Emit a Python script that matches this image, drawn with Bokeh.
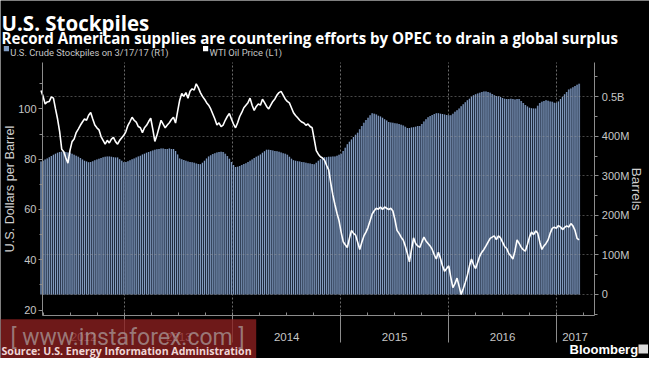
import math
import pandas as pd
from bokeh.plotting import figure
from bokeh.models import (Range1d, LinearAxis, FixedTicker, Label, BoxAnnotation,
                          Grid, CustomJSTickFormatter, ColumnDataSource)
from bokeh.embed import file_html
from bokeh.resources import INLINE

# ---------------- data ----------------
first_week = "2012-03-23"   # weekly observations, last one 2017-03-17

stocks_mbbl = [
    336, 338, 341, 344, 347, 350, 353, 356, 358, 360,
    361, 361, 360, 359, 358, 356, 353, 351, 348, 345,
    341, 338, 336, 334, 335, 337, 339, 341, 343, 345,
    347, 348, 349, 349, 348, 347, 346, 346, 342, 338,
    334, 335, 337, 339, 342, 344, 346, 349, 351, 354,
    356, 358, 360, 362, 364, 366, 367, 368, 369, 369,
    368, 368, 369, 368, 368, 363, 354, 344, 342, 340,
    338, 336, 335, 334, 333, 331, 330, 329, 333, 338,
    344, 349, 352, 355, 357, 359, 360, 361, 360, 356,
    350, 343, 335, 327, 322, 323, 325, 327, 330, 332,
    335, 338, 341, 345, 348, 351, 354, 358, 362, 366,
    366, 365, 364, 363, 362, 361, 359, 357, 356, 353,
    348, 343, 339, 338, 337, 336, 335, 334, 333, 332,
    331, 330, 329, 333, 338, 342, 346, 347, 347, 348,
    348, 349, 349, 351, 353, 356, 363, 371, 380, 386,
    392, 398, 404, 409, 418, 426, 434, 441, 447, 453,
    458, 457, 455, 452, 450, 447, 443, 440, 436, 435,
    434, 433, 432, 431, 429, 427, 424, 421, 421, 422,
    423, 424, 426, 426, 431, 437, 443, 448, 451, 454,
    456, 458, 458, 457, 456, 455, 454, 453, 453, 457,
    462, 466, 470, 476, 481, 486, 491, 495, 500, 504,
    506, 508, 510, 512, 513, 513, 512, 510, 507, 504,
    502, 501, 499, 497, 495, 494, 494, 495, 494, 493,
    494, 494, 489, 484, 479, 475, 472, 471, 470, 470,
    477, 484, 487, 489, 491, 490, 488, 487, 485, 484,
    488, 494, 500, 506, 512, 518, 521, 524, 527, 530,
    533,
]

wti_usd = [
    107.3, 105.0, 102.0, 102.8, 103.0, 104.8, 104.3, 100.0, 96.0, 91.0,
    84.0, 83.0, 80.5, 78.4, 83.5, 87.0, 88.0, 90.6, 92.0, 93.5,
    94.8, 96.0, 95.5, 97.5, 98.6, 96.0, 93.6, 92.5, 91.7, 89.0,
    87.5, 86.0, 87.5, 86.5, 88.0, 88.7, 87.0, 86.0, 87.5, 88.5,
    89.5, 91.0, 93.5, 95.0, 96.7, 95.5, 94.8, 93.0, 92.5, 90.6,
    92.5, 93.5, 95.0, 96.3, 92.0, 87.1, 89.5, 92.5, 95.5, 94.0,
    92.5, 93.6, 94.5, 95.8, 96.7, 94.4, 99.0, 103.5, 106.2, 105.0,
    106.5, 104.3, 107.0, 108.0, 107.5, 110.0, 108.5, 106.5, 105.0, 103.9,
    102.5, 101.5, 100.0, 98.0, 96.0, 93.6, 94.5, 93.0, 93.6, 95.5,
    97.0, 98.2, 96.0, 94.0, 92.5, 94.5, 97.0, 98.6, 100.5, 101.5,
    102.5, 104.3, 101.5, 99.4, 101.0, 102.0, 101.5, 103.9, 102.5, 101.0,
    100.0, 101.5, 103.0, 104.0, 105.5, 106.5, 107.0, 105.5, 104.0, 103.0,
    102.4, 100.5, 98.5, 97.4, 96.5, 95.5, 94.8, 94.4, 93.5, 94.0,
    93.0, 92.5, 88.0, 83.4, 82.0, 81.0, 80.5, 79.6, 77.5, 75.8,
    70.5, 65.8, 62.0, 58.5, 55.5, 51.0, 47.2, 46.0, 44.9, 48.5,
    51.7, 50.5, 49.8, 47.0, 44.1, 47.0, 49.5, 51.0, 52.9, 55.5,
    58.2, 59.5, 60.5, 60.1, 61.0, 60.0, 61.0, 60.5, 60.0, 60.5,
    59.4, 56.0, 51.7, 50.5, 49.0, 47.9, 45.5, 42.5, 39.2, 44.0,
    48.7, 46.5, 45.5, 44.9, 47.0, 49.0, 47.5, 46.5, 45.5, 44.1,
    42.0, 40.3, 43.0, 40.5, 37.5, 35.4, 36.5, 37.6, 33.0, 28.9,
    30.5, 32.7, 29.5, 26.2, 28.5, 31.0, 33.8, 37.5, 40.3, 38.0,
    36.5, 39.0, 41.5, 43.0, 44.1, 45.5, 47.0, 48.5, 49.0, 49.5,
    48.0, 49.5, 48.7, 47.0, 45.3, 44.5, 42.5, 41.5, 40.3, 43.5,
    47.9, 46.5, 45.0, 44.0, 43.4, 46.0, 49.0, 51.0, 50.0, 51.5,
    50.6, 47.0, 44.1, 45.5, 46.5, 47.9, 50.5, 52.5, 53.0, 52.5,
    53.6, 53.0, 52.0, 52.9, 53.5, 53.0, 54.4, 53.5, 51.7, 48.5,
    47.9,
]

left_ticks = [20, 40, 60, 80, 100]
left_minor = [30, 50, 70, 90, 110]
right_ticks = [0, 100, 200, 300, 400, 500]
right_tick_labels = ["0", "100M", "200M", "300M", "400M", "0.5B"]
right_minor = [-50, 50, 150, 250, 350, 450, 550]
year_starts = ["2013-01-01", "2014-01-01", "2015-01-01", "2016-01-01", "2017-01-01"]
year_labels = ["2012", "2013", "2014", "2015", "2016", "2017"]
year_label_at = ["2012-08-14", "2013-07-02", "2014-07-02", "2015-07-02", "2016-07-01", "2017-03-03"]

title = "U.S. Stockpiles"
subtitle = "Record American supplies are countering efforts by OPEC to drain a global surplus"
legend_stock = "U.S. Crude Stockpiles on 3/17/17 (R1)"
legend_wti = "WTI Oil Price (L1)"
left_title = "U.S. Dollars per Barrel"
right_title = "Barrels"
source = "Source: U.S. Energy Information Administration"
brand = "Bloomberg"
watermark = "[ www.instaforex.com ]"

# ---------------- helpers / layout ----------------
def ms(d):
    return pd.Timestamp(d).value / 1e6

weeks = pd.date_range(first_week, periods=len(stocks_mbbl), freq="7D")
x_ms = [ms(d) for d in weeks]
year_ms = [ms(d) for d in year_starts]
quarter_ms = [ms(d) for d in pd.date_range("2012-04-01", "2017-04-01", freq="QS")]
WEEK = 7 * 86400000

W, H = 649, 358
PL, PR, PT, PB = 42.0, 594.3, 62.2, 315.0     # plot area inside the canvas (px)

x0, x1 = ms("2012-03-28"), ms("2017-05-09")   # x extent of the plot area
p_lo, p_hi = 17.83, 118.4                     # left axis extent
s_lo, s_hi = -53.3, 586.0                     # right axis extent (million barrels)

kx = (x1 - x0) / (PR - PL)
kp = (p_hi - p_lo) / (PB - PT)
ks = (s_hi - s_lo) / (PB - PT)

src = ColumnDataSource(dict(x=x_ms, stock=stocks_mbbl, wti=wti_usd))

p = figure(width=W, height=H, output_backend="svg", toolbar_location=None, tools="",
           x_range=Range1d(x0 - PL * kx, x1 + (W - PR) * kx),
           y_range=Range1d(p_lo - (H - PB) * kp, p_hi + PT * kp),
           min_border_left=0, min_border_right=0, min_border_top=0, min_border_bottom=0,
           background_fill_color="black", border_fill_color="black",
           outline_line_color=None)
p.extra_y_ranges = {"stock": Range1d(s_lo - (H - PB) * ks, s_hi + PT * ks)}

# grids
p.ygrid.visible = False
xg = p.xgrid[0]
xg.ticker = FixedTicker(ticks=year_ms)
xg.grid_line_color = "#6a6a6a"
xg.grid_line_dash = "2 2"
xg.bounds = (x0, x1)
xg.cross_bounds = (p_lo, p_hi)

p.vbar(x="x", top="stock", bottom=0, width=WEEK * 0.98, source=src,
       fill_color="#2c3b54", line_color=None, y_range_name="stock")
p.vbar(x="x", top="stock", bottom=0, width=WEEK * 0.45, source=src,
       fill_color="#8ca6ca", line_color=None, y_range_name="stock")

hg = Grid(dimension=1, ticker=FixedTicker(ticks=right_ticks), y_range_name="stock",
          grid_line_color="#a0a0a0", grid_line_alpha=0.45, grid_line_dash="2 2",
          level="glyph", bounds=(s_lo, s_hi), cross_bounds=(x0, x1))
p.renderers.append(hg)

p.line(x="x", y="wti", source=src, line_color="white", line_width=1.6)

AX = "#8c8c8c"
TXT = "#c6c6c6"
FONT = "Liberation Sans"
HEAD = "Open Sans"

def style_axis(ax):
    ax.axis_line_color = AX
    ax.major_tick_line_color = AX
    ax.minor_tick_line_color = AX
    ax.major_label_text_color = TXT
    ax.major_label_text_font = FONT
    ax.major_label_text_font_size = "11px"

ly = p.yaxis[0]
ly.ticker = FixedTicker(ticks=left_ticks, minor_ticks=left_minor)
style_axis(ly)
ly.fixed_location = x0
ly.bounds = (p_lo, p_hi)
ly.major_tick_out = 4
ly.major_tick_in = 0
ly.minor_tick_out = 3
ly.minor_tick_in = 0
ly.major_label_standoff = 2

ry = LinearAxis(y_range_name="stock",
                ticker=FixedTicker(ticks=right_ticks, minor_ticks=right_minor),
                major_label_overrides=dict(zip(right_ticks, right_tick_labels)))
style_axis(ry)
ry.fixed_location = x1
ry.bounds = (s_lo, s_hi)
ry.major_tick_out = 4
ry.major_tick_in = 0
ry.minor_tick_out = 3
ry.minor_tick_in = 0
ry.major_label_standoff = 3
p.add_layout(ry, "right")

bx = p.xaxis[0]
bx.ticker = FixedTicker(ticks=year_ms, minor_ticks=quarter_ms)
bx.formatter = CustomJSTickFormatter(code="return ''")
style_axis(bx)
bx.fixed_location = p_lo
bx.bounds = (x0, x1)
bx.major_tick_out = 27
bx.major_tick_in = 0
bx.minor_tick_out = 0
bx.minor_tick_in = 3
bx.major_label_standoff = 0
bx.major_label_text_font_size = "8px"

def lab(text, cx, cy, size, color=TXT, bold=False, align="left", baseline="alphabetic",
        angle=0.0, font=FONT, alpha=1.0):
    p.add_layout(Label(x=cx, y=H - cy, x_units="screen", y_units="screen",
                       text=text, text_font=font, text_font_size=f"{size}px",
                       text_color=color, text_alpha=alpha,
                       text_font_style="bold" if bold else "normal",
                       text_align=align, text_baseline=baseline, angle=angle))

def box(l, r, t, b, color, alpha=1.0):
    p.add_layout(BoxAnnotation(left=l, right=r, top=H - t, bottom=H - b,
                               left_units="screen", right_units="screen",
                               top_units="screen", bottom_units="screen",
                               fill_color=color, fill_alpha=alpha, line_color=None,
                               level="annotation"))

# titles and legend
lab(title, 1, 22.5, 20.5, color="white", bold=True, font=HEAD)
lab(subtitle, 1, 37.5, 15.1, color="white", bold=True, font=HEAD)
box(3.3, 8.5, 45.5, 50.7, "#7f9bc2")
lab(legend_stock, 9.8, 51.5, 9.4, font="Roboto")
box(202.5, 207.7, 45.5, 50.7, "white")
lab(legend_wti, 209, 51.5, 9.4, font="Roboto")

# axis titles
lab(left_title, 9.5, 188.6, 12.7, color="#cfcfcf", align="center",
    baseline="middle", angle=math.pi / 2)
lab(right_title, 636, 188.6, 13.5, color="#cfcfcf", align="center",
    baseline="middle", angle=-math.pi / 2)

# year labels
for t, d in zip(year_labels, year_label_at):
    p.add_layout(Label(x=ms(d), y=H - 336.5, x_units="data", y_units="screen",
                       text=t, text_font=FONT, text_font_size="11.5px", text_color=TXT,
                       text_align="center", text_baseline="middle"))

# watermark overlay
box(0, 255.7, 318.8, 358, "#8a1f1f", 0.8)
lab(watermark, 127, 337, 23, color="#b8b8b8", align="center",
    baseline="middle", font="Roboto", alpha=0.6)

# footer
lab(source, 1, 350.5, 10.6, color="#f0d6d6", bold=True, baseline="middle", font=HEAD)
lab(brand, 569, 348.5, 13, color="white", bold=True, baseline="middle")
box(638, 647.5, 344, 353, "#dcdcdc")

open("out.html", "w").write(file_html(p, INLINE))
